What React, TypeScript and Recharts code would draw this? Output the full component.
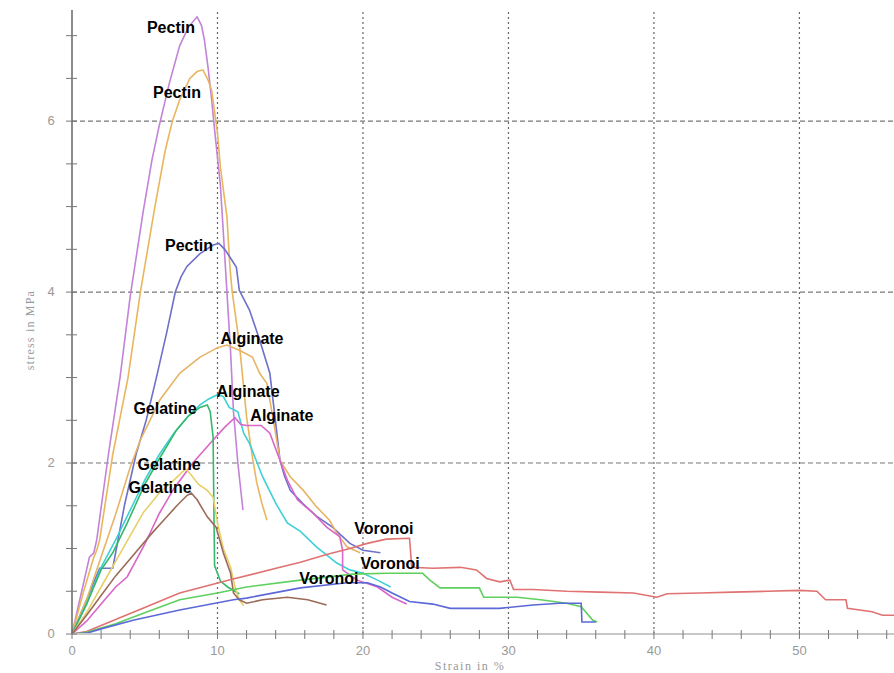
import React from "react";
import { LineChart, Line, XAxis, YAxis, ReferenceLine, ReferenceDot } from "recharts";

type Pt = [number, number];

// strain (%) / stress (MPa) pairs
const pectinA: Pt[] = [[0, 0], [0.6, 0.45], [1.2, 0.9], [1.5, 0.95], [1.7, 1.1], [2.5, 2.1], [3.3, 3.0], [4.0, 3.95], [4.9, 4.95], [5.5, 5.55], [6.0, 5.95], [6.7, 6.45], [7.4, 6.88], [8.0, 7.1], [8.6, 7.22], [8.9, 7.12], [9.1, 6.95], [9.35, 6.63], [9.6, 6.25], [9.8, 5.9], [10.2, 5.25], [10.4, 4.7], [10.65, 4.0], [10.9, 3.3], [11.1, 2.6], [11.4, 2.0], [11.75, 1.45]];
const pectinB: Pt[] = [[0, 0], [0.8, 0.5], [1.5, 0.9], [1.7, 0.98], [1.9, 1.1], [2.8, 2.1], [3.85, 3.0], [4.7, 4.0], [5.7, 5.0], [6.4, 5.65], [6.9, 6.0], [7.4, 6.25], [8.1, 6.5], [8.6, 6.58], [9.0, 6.6], [9.35, 6.48], [9.6, 6.36], [10.0, 5.86], [10.2, 5.46], [10.65, 4.88], [10.85, 4.3], [11.0, 4.02], [11.5, 3.4], [11.75, 2.97], [12.0, 2.54], [12.4, 2.07], [12.7, 1.77], [13.05, 1.53], [13.4, 1.33]];
const pectinC: Pt[] = [[0, 0], [1.0, 0.4], [1.9, 0.77], [2.8, 0.77], [3.6, 1.5], [4.4, 2.1], [5.1, 2.5], [5.8, 3.0], [6.5, 3.52], [7.1, 4.0], [7.5, 4.18], [7.9, 4.3], [8.8, 4.45], [9.7, 4.55], [10.1, 4.57], [10.5, 4.5], [10.85, 4.41], [11.3, 4.29], [11.5, 4.02], [12.2, 3.79], [12.9, 3.44], [13.6, 3.05], [13.95, 2.54], [14.3, 2.03], [14.6, 1.85], [15.0, 1.68], [15.9, 1.52], [16.8, 1.38], [17.9, 1.25], [19.1, 1.06], [20.0, 0.98], [21.2, 0.95]];

const alginateA: Pt[] = [[0, 0], [1, 0.4], [2, 0.9], [3, 1.4], [4, 1.95], [4.7, 2.27], [6.05, 2.74], [7.4, 3.05], [8.8, 3.24], [10.0, 3.35], [10.65, 3.38], [11.5, 3.32], [12.4, 3.24], [12.9, 3.05], [13.4, 2.93], [13.8, 2.54], [14.3, 2.03], [15.0, 1.84], [15.9, 1.68], [16.8, 1.49], [17.7, 1.33], [18.2, 1.18], [18.9, 1.02], [19.8, 0.95]];
const alginateB: Pt[] = [[0, 0], [1, 0.35], [2, 0.78], [3, 1.1], [4, 1.45], [5, 1.8], [6, 2.1], [7, 2.35], [8, 2.55], [8.8, 2.68], [9.4, 2.75], [10.0, 2.8], [10.4, 2.78], [10.8, 2.65], [11.4, 2.6], [11.8, 2.35], [12.2, 2.23], [13.1, 1.84], [14.0, 1.53], [14.8, 1.3], [15.7, 1.2], [16.8, 1.02], [18.2, 0.83], [19.1, 0.75], [20.0, 0.71], [21.0, 0.63], [21.9, 0.55]];
const alginateC: Pt[] = [[0, 0], [1, 0.15], [2, 0.35], [3, 0.55], [3.8, 0.67], [5, 1.05], [6, 1.41], [7, 1.7], [8.3, 2.0], [9.7, 2.27], [10.5, 2.42], [11.2, 2.53], [11.6, 2.45], [12.0, 2.44], [13.0, 2.44], [13.6, 2.35], [14.3, 2.03], [14.8, 1.8], [15.5, 1.57], [16.6, 1.41], [17.5, 1.25], [18.4, 1.14], [18.6, 0.98], [18.6, 0.75], [19.6, 0.63], [21.0, 0.55], [22.0, 0.43], [23.0, 0.35]];

const gelatineA: Pt[] = [[0, 0], [1, 0.35], [2, 0.75], [2.8, 0.95], [3.8, 1.3], [5.0, 1.75], [6.0, 2.05], [7.2, 2.39], [8.0, 2.55], [8.8, 2.65], [9.3, 2.68], [9.5, 2.6], [9.7, 2.3], [9.75, 1.5], [9.8, 0.8], [10.2, 0.62], [10.7, 0.55], [11.2, 0.5], [11.5, 0.47]];
const gelatineB: Pt[] = [[0, 0], [1, 0.25], [2, 0.55], [3, 0.85], [4, 1.15], [4.9, 1.42], [6, 1.65], [7, 1.8], [7.8, 1.93], [8.1, 1.88], [8.7, 1.75], [9.3, 1.68], [9.7, 1.6], [10.0, 1.3], [10.4, 1.0], [10.9, 0.78], [11.2, 0.55], [11.5, 0.4], [11.8, 0.33]];
const gelatineC: Pt[] = [[0, 0], [1, 0.22], [2, 0.45], [3, 0.68], [4.5, 0.98], [5.5, 1.18], [6.3, 1.33], [7.2, 1.5], [7.9, 1.62], [8.2, 1.65], [8.6, 1.57], [9.3, 1.37], [9.9, 1.25], [10.4, 0.95], [10.9, 0.71], [11.1, 0.48], [11.5, 0.4], [12.0, 0.36], [13.1, 0.4], [14.8, 0.43], [16.2, 0.4], [17.5, 0.34]];

const voronoiA: Pt[] = [[0, 0], [1, 0.03], [3, 0.17], [5, 0.31], [7.4, 0.48], [11, 0.64], [14.3, 0.78], [15.7, 0.84], [17.5, 0.93], [19.1, 1.0], [20.3, 1.06], [21.6, 1.11], [23.2, 1.12], [23.35, 0.78], [24.8, 0.77], [26.7, 0.78], [27.8, 0.75], [28.5, 0.65], [29.4, 0.61], [30.1, 0.63], [30.35, 0.52], [31.7, 0.52], [34, 0.5], [36.3, 0.49], [38.6, 0.48], [40.2, 0.43], [40.9, 0.47], [43.2, 0.48], [45.4, 0.49], [47.8, 0.5], [50, 0.51], [51.2, 0.5], [51.8, 0.4], [53.2, 0.4], [53.3, 0.3], [55, 0.26], [55.7, 0.22], [56.5, 0.22]];
const voronoiB: Pt[] = [[0, 0], [1, 0.02], [3, 0.12], [5, 0.25], [7.4, 0.4], [10, 0.48], [12, 0.55], [15.7, 0.63], [19.3, 0.7], [21.6, 0.71], [24.1, 0.71], [24.6, 0.63], [25.3, 0.54], [28, 0.54], [28.3, 0.43], [30.6, 0.43], [32.2, 0.4], [34, 0.36], [35, 0.32], [35.8, 0.16], [36.1, 0.14]];
const voronoiC: Pt[] = [[0, 0], [1, 0.01], [2, 0.06], [4.2, 0.16], [7.4, 0.28], [11.1, 0.4], [12, 0.42], [15.7, 0.54], [18.9, 0.6], [20.3, 0.6], [21.2, 0.55], [22, 0.48], [23.2, 0.38], [24.8, 0.35], [26, 0.3], [29.4, 0.3], [31.7, 0.34], [33.5, 0.36], [35, 0.36], [35.05, 0.14], [36, 0.14]];

const curves = [
    { name: "pectinA", points: pectinA, color: "#c283d8" },
    { name: "pectinB", points: pectinB, color: "#e9b65e" },
    { name: "pectinC", points: pectinC, color: "#6e70c9" },
    { name: "alginateA", points: alginateA, color: "#e7b466" },
    { name: "alginateB", points: alginateB, color: "#3fd0d6" },
    { name: "alginateC", points: alginateC, color: "#d966c8" },
    { name: "gelatineA", points: gelatineA, color: "#35b86c" },
    { name: "gelatineB", points: gelatineB, color: "#e6d066" },
    { name: "gelatineC", points: gelatineC, color: "#9c6a58" },
    { name: "voronoiA", points: voronoiA, color: "#e07272" },
    { name: "voronoiB", points: voronoiB, color: "#5fcf5f" },
    { name: "voronoiC", points: voronoiC, color: "#5b68d6" },
];

const labelText = ["Pectin", "Pectin", "Pectin", "Alginate", "Alginate", "Alginate", "Gelatine", "Gelatine", "Gelatine", "Voronoi", "Voronoi", "Voronoi"];
const labelStrain = [6.8, 7.22, 8.04, 12.37, 12.1, 14.43, 6.39, 6.67, 6.05, 21.44, 21.86, 17.66];
const labelStress = [7.09, 6.34, 4.55, 3.46, 2.84, 2.56, 2.64, 1.98, 1.71, 1.24, 0.83, 0.65];

const xTicks = [0, 2, 4, 6, 8, 10, 12, 14, 16, 18, 20, 22, 24, 26, 28, 30, 32, 34, 36, 38, 40, 42, 44, 46, 48, 50, 52, 54, 56];
const yTicks = [0, 0.5, 1, 1.5, 2, 2.5, 3, 3.5, 4, 4.5, 5, 5.5, 6, 6.5, 7];
const xGrid = [10, 20, 30, 40, 50];
const yGrid = [2, 4, 6];

const XTick = (props: any) => {
    const { x, y, payload } = props;
    const major = payload.value % 10 === 0;
    return (
        <g>
            <line x1={x} x2={x} y1={y - 4} y2={y + 5} stroke="#777" strokeWidth={1} />
            {major && (
                <text x={x} y={y + 21} textAnchor="middle" fill="#999" fontSize={13} fontFamily="Liberation Sans, Arial">
                    {payload.value}
                </text>
            )}
        </g>
    );
};

const YTick = (props: any) => {
    const { x, y, payload } = props;
    const major = payload.value % 2 === 0;
    return (
        <g>
            <line x1={x - 6} x2={x + 5} y1={y} y2={y} stroke="#777" strokeWidth={1} />
            {major && (
                <text x={x - 21} y={y + 4} textAnchor="middle" fill="#999" fontSize={13} fontFamily="Liberation Sans, Arial">
                    {payload.value}
                </text>
            )}
        </g>
    );
};

export default function App() {
    return (
        <div style={{ position: "absolute", left: 0, top: 0, width: 894, height: 673, background: "#fff" }}>
            <LineChart width={894} height={673} margin={{ top: 10, right: 0, bottom: 0, left: 0 }}>
                <XAxis
                    type="number"
                    dataKey="x"
                    domain={[0, 56.5]}
                    ticks={xTicks}
                    tick={XTick}
                    tickSize={0}
                    tickMargin={0}
                    height={39}
                    interval={0}
                    allowDataOverflow
                    axisLine={{ stroke: "#c8c8c8", strokeWidth: 2 }}
                    label={{
                        content: () => (
                            <text x={470} y={670} textAnchor="middle" fill="#999" fontSize={12} fontFamily="Liberation Serif, serif" letterSpacing={1.5}>
                                Strain in %
                            </text>
                        ),
                    }}
                />
                <YAxis
                    type="number"
                    dataKey="y"
                    domain={[0, 7.3]}
                    ticks={yTicks}
                    tick={YTick}
                    tickSize={0}
                    tickMargin={0}
                    width={72}
                    interval={0}
                    allowDataOverflow
                    axisLine={{ stroke: "#666", strokeWidth: 1.5 }}
                    label={{
                        content: () => (
                            <text x={34} y={330} transform="rotate(-90 34 330)" textAnchor="middle" fill="#999" fontSize={12} fontFamily="Liberation Serif, serif" letterSpacing={1.2}>
                                stress in MPa
                            </text>
                        ),
                    }}
                />
                {xGrid.map((v) => (
                    <ReferenceLine key={`gx${v}`} x={v} stroke="#666" strokeDasharray="2 3" strokeWidth={1.2} />
                ))}
                {yGrid.map((v) => (
                    <ReferenceLine key={`gy${v}`} y={v} stroke="#777" strokeDasharray="5 3" strokeWidth={1.1} />
                ))}
                {curves.map((c) => (
                    <Line
                        key={c.name}
                        data={c.points.map(([x, y]) => ({ x, y }))}
                        dataKey="y"
                        type="linear"
                        stroke={c.color}
                        strokeWidth={1.6}
                        dot={false}
                        activeDot={false}
                        isAnimationActive={false}
                    />
                ))}
                {labelText.map((t, i) => (
                    <ReferenceDot
                        key={`lb${i}`}
                        x={labelStrain[i]}
                        y={labelStress[i]}
                        r={0}
                        shape={(p: any) => (
                            <text
                                x={p.cx}
                                y={p.cy}
                                textAnchor="middle"
                                dominantBaseline="central"
                                fill="#000"
                                fontSize={16}
                                fontWeight="bold"
                                fontFamily="Liberation Sans, Arial, sans-serif"
                            >
                                {t}
                            </text>
                        )}
                    />
                ))}
            </LineChart>
        </div>
    );
}
